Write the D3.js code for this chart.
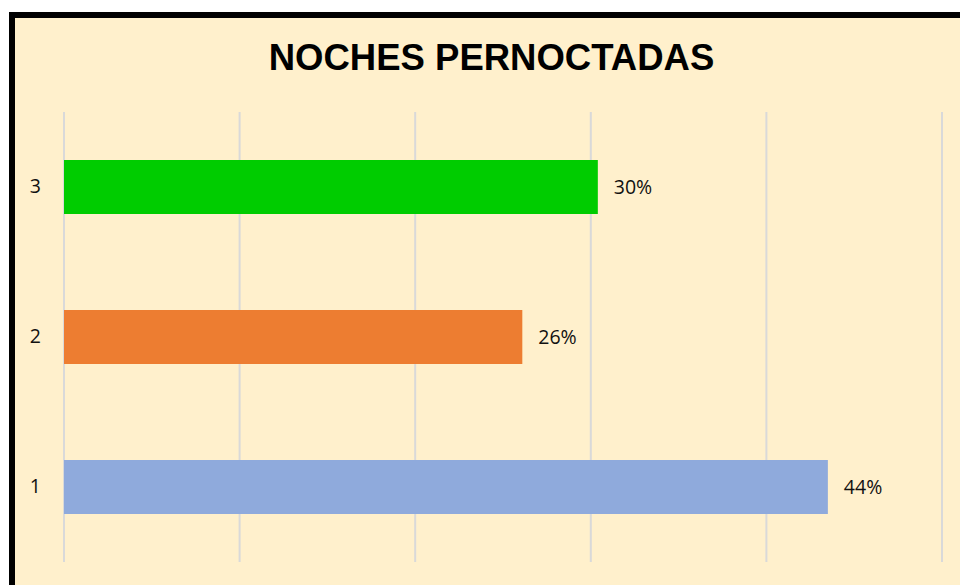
<!DOCTYPE html>
<html>
<head>
<meta charset="utf-8">
<script src="https://cdn.jsdelivr.net/npm/d3@7"></script>
<style>
  html, body { margin: 0; padding: 0; background: #fff; }
  svg { display: block; }
</style>
</head>
<body>
<svg width="960" height="585"></svg>
<script>
const categories = ['1', '2', '3'];
const values     = [0.435, 0.261, 0.304];
const colors     = ['#8FAADC', '#ED7D31', '#00CC00'];
const xTicks     = [0, 0.1, 0.2, 0.3, 0.4, 0.5];
const title      = 'NOCHES PERNOCTADAS';

function draw () {
  let svg = d3.select('svg');

  let data = categories.map((c, i) => ({ cat: c, value: values[i], color: colors[i] }));

  // frame
  svg.append('rect')
    .attr('x', 12).attr('y', 15)
    .attr('width', 960).attr('height', 600)
    .attr('fill', '#FFF0CC')
    .attr('stroke', '#000')
    .attr('stroke-width', 6);

  svg.append('text')
    .attr('x', 491.5).attr('y', 69.5)
    .attr('text-anchor', 'middle')
    .attr('font-family', 'Liberation Sans, Arial, sans-serif')
    .attr('font-weight', 'bold')
    .attr('font-size', 36.5)
    .attr('fill', '#000')
    .text(title);

  // Scales
  let x = d3.scaleLinear().domain([0, 0.5]).range([64, 942]);

  let y = d3.scaleBand()
    .domain(categories.slice().reverse())
    .range([112, 562])
    .paddingInner(0.64)
    .paddingOuter(0.32);

  // grid
  svg.append('g')
    .selectAll('line')
    .data(xTicks)
    .enter().append('line')
      .attr('x1', d => x(d)).attr('x2', d => x(d))
      .attr('y1', 112).attr('y2', 562)
      .attr('stroke', '#D9D9D9')
      .attr('stroke-width', 2);

  // bars
  svg.append('g')
    .selectAll('rect')
    .data(data)
    .enter().append('rect')
      .attr('x', x(0))
      .attr('y', d => y(d.cat))
      .attr('width', d => x(d.value) - x(0))
      .attr('height', y.bandwidth())
      .attr('fill', d => d.color);

  // value labels
  let fmt = d3.format('.0%');
  svg.append('g')
    .selectAll('text')
    .data(data)
    .enter().append('text')
      .attr('x', d => x(d.value) + 16)
      .attr('y', d => y(d.cat) + y.bandwidth() / 2)
      .attr('dy', '0.35em')
      .attr('font-family', 'Open Sans, Noto Sans, sans-serif')
      .attr('font-size', 19.5)
      .attr('fill', '#111')
      .text(d => fmt(d.value));

  // category axis
  let yAxis = d3.axisLeft(y).tickSize(0).tickPadding(0);
  svg.append('g')
    .attr('transform', 'translate(41,0)')
    .call(yAxis)
    .call(g => g.select('.domain').remove())
    .selectAll('text')
      .attr('font-family', 'Open Sans, Noto Sans, sans-serif')
      .attr('font-size', 19.5)
      .attr('fill', '#111');
}

draw();
</script>
</body>
</html>
